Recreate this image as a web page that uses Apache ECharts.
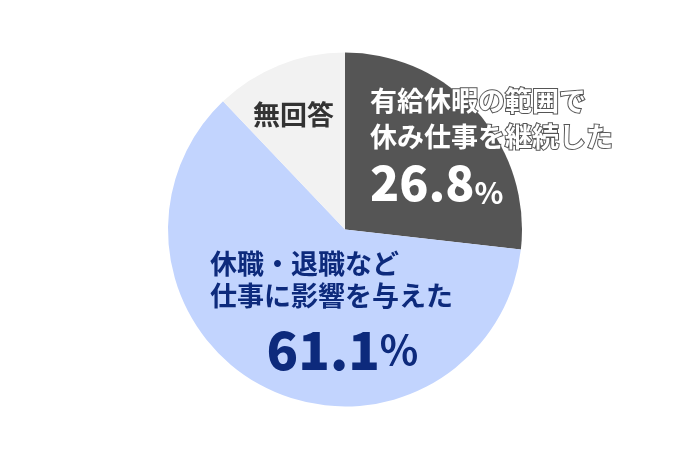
<!DOCTYPE html>
<html>
<head>
<meta charset="utf-8">
<script src="https://cdn.jsdelivr.net/npm/echarts@6/dist/echarts.min.js"></script>
<style>
html,body{margin:0;padding:0;background:#fff;}
#chart{width:690px;height:460px;}
</style>
</head>
<body>
<div id="chart"></div>
<script>
var names = ['有給休暇の範囲で\n休み仕事を継続した', '休職・退職など\n仕事に影響を与えた', '無回答'];
var values = [26.8, 61.1, 12.1];
var showValue = [true, true, false];
var colors = ['#555555', '#c2d4fe', '#f2f2f2'];

// where each label block starts (top-left)
var labelPos = [[370, 83], [210, 248], [253, 101]];
var richKey = ['a', 'b', 'c'];

var myChart = echarts.init(document.getElementById('chart'), null, {renderer: 'canvas'});
var font = '"Noto Sans CJK JP", "Noto Sans", sans-serif';

var data = [];
for (var i = 0; i < names.length; i++) {
	data.push({name: names[i], value: values[i], itemStyle: {color: colors[i]}});
}

var option = {
	animation: false,
	series: [{
		type: 'pie',
		center: [345, 229.5],
		radius: 177,
		startAngle: 90,
		clockwise: true,
		silent: true,
		label: {
			show: true,
			position: 'inside',
			fontFamily: font,
			formatter: function (p) {
				var k = richKey[p.dataIndex];
				var lines = p.name.split('\n').map(function (s) { return '{' + k + 't|' + s + '}'; });
				var str = lines.join('\n');
				if (showValue[p.dataIndex]) {
					str += '\n{' + k + 'n|' + p.value.toFixed(1) + '}{' + k + 'p|%}';
				}
				return str;
			},
			rich: {
				at: {fontFamily: font, fontSize: 27, fontWeight: 'bold', color: '#fff', textBorderColor: '#555', textBorderWidth: 2, lineHeight: 36},
				an: {fontFamily: font, fontSize: 48, fontWeight: 900, color: '#fff', lineHeight: 56},
				ap: {fontFamily: font, fontSize: 30, fontWeight: 'bold', color: '#fff', lineHeight: 56, verticalAlign: 'bottom', padding: [0, 0, 3, 0]},
				bt: {fontFamily: font, fontSize: 27, fontWeight: 'bold', color: '#0d2a7c', lineHeight: 32},
				bn: {fontFamily: font, fontSize: 52, fontWeight: 900, color: '#0d2a7c', lineHeight: 76, align: 'center', padding: [0, 0, 0, 22]},
				bp: {fontFamily: font, fontSize: 40, fontWeight: 'bold', color: '#0d2a7c', lineHeight: 76, align: 'center'},
				ct: {fontFamily: font, fontSize: 27, fontWeight: 'bold', color: '#333', lineHeight: 28}
			}
		},
		labelLine: {show: false},
		labelLayout: function (params) {
			var pos = labelPos[params.dataIndex];
			return {x: pos[0], y: pos[1], align: 'left', verticalAlign: 'top'};
		},
		data: data
	}]
};

myChart.setOption(option, true);
</script>
</body>
</html>
